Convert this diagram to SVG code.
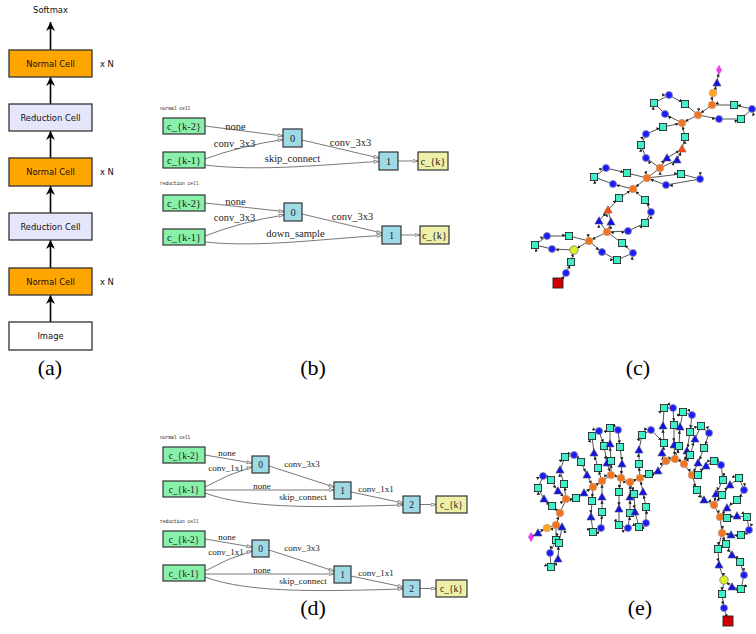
<svg xmlns="http://www.w3.org/2000/svg" width="756" height="634" viewBox="0 0 756 634">
<style>
.bx{stroke:#333;stroke-width:1.3}
.or{fill:#ffa500}.lv{fill:#e6e6fa}.wh{fill:#fff}
.at{font-family:"DejaVu Sans",sans-serif;font-size:8.4px;fill:#111;text-anchor:middle}
.xn{font-family:"DejaVu Sans",sans-serif;font-size:8.4px;fill:#111}
.pl{font-family:"Liberation Serif",serif;font-size:22px;fill:#000;text-anchor:middle}
.gn{fill:#88f0a8;stroke:#333;stroke-width:1.2}
.bn{fill:#9fd9e6;stroke:#333;stroke-width:1.2}
.yn{fill:#eef0a8;stroke:#333;stroke-width:1.2}
.nt{font-family:"Liberation Serif",serif;font-size:10.5px;fill:#222;text-anchor:middle}
.nt2{font-family:"Liberation Serif",serif;font-size:9.5px;fill:#222;text-anchor:middle}
.el{font-family:"Liberation Serif",serif;font-size:10.5px;fill:#222;text-anchor:middle}
.el2{font-family:"Liberation Serif",serif;font-size:9px;fill:#222;text-anchor:middle}
.tl{font-family:"Liberation Mono",monospace;font-size:4.6px;fill:#222}
.ed{fill:none;stroke:#6a6a6a;stroke-width:0.9;marker-end:url(#oa)}
.ar{stroke:#000;stroke-width:1.6;marker-end:url(#ah)}
.me{fill:none;stroke:#2a2a2a;stroke-width:0.8;marker-mid:url(#sa);marker-end:url(#sa)}
</style>
<defs>
<marker id="ah" viewBox="0 0 10 10" refX="10" refY="5" markerWidth="9" markerHeight="9" markerUnits="userSpaceOnUse" orient="auto"><path d="M0,0 L10,5 L0,10 L3,5z" fill="#000"/></marker>
<marker id="oa" viewBox="0 0 12 8" refX="11" refY="4" markerWidth="6" markerHeight="4" markerUnits="userSpaceOnUse" orient="auto"><path d="M1,1 L11,4 L1,7z" fill="#fff" stroke="#555" stroke-width="1.3"/></marker>
<marker id="sa" viewBox="0 0 10 10" refX="20" refY="5" markerWidth="3.4" markerHeight="3.4" markerUnits="userSpaceOnUse" orient="auto"><path d="M0,0 L10,5 L0,10z" fill="#222"/></marker>
<circle id="B" r="3.5" fill="#1a1aff" stroke="#8888aa" stroke-width="0.9"/>
<circle id="O" r="3.8" fill="#f27420" stroke="#c8a080" stroke-width="0.7"/>
<circle id="LO" r="3.8" fill="#ffa520" stroke="#c8a080" stroke-width="0.7"/>
<circle id="Y" r="4.2" fill="#e0f020" stroke="#777" stroke-width="0.8"/>
<rect id="T" x="-3.6" y="-3.6" width="7.2" height="7.2" fill="#40eec8" stroke="#1a1a1a" stroke-width="0.8"/>
<polygon id="V" points="0,-4.3 4.1,3 -4.1,3" fill="#1212e0" stroke="#555577" stroke-width="0.6"/>
<polygon id="RT" points="0,-4.3 4.1,3 -4.1,3" fill="#ff4a10" stroke="#885544" stroke-width="0.6"/>
<polygon id="MD" points="0,-4.8 2.6,0 0,4.8 -2.6,0" fill="#ff33ff" stroke="#aa66aa" stroke-width="0.5"/>
<rect id="R" x="-5" y="-5" width="10" height="10" fill="#d40000" stroke="#222" stroke-width="0.9"/>
</defs>
<rect width="756" height="634" fill="#fff"/>

<!-- Panel (a) -->
<g id="a-connectors">
<line class="ar" x1="50.5" y1="50" x2="50.5" y2="22"/>
<line class="ar" x1="50.5" y1="104" x2="50.5" y2="77"/>
<line class="ar" x1="50.5" y1="158" x2="50.5" y2="131"/>
<line class="ar" x1="50.5" y1="213" x2="50.5" y2="186"/>
<line class="ar" x1="50.5" y1="268" x2="50.5" y2="240"/>
<line class="ar" x1="50.5" y1="322" x2="50.5" y2="295"/>
</g>
<g id="a-softmax"><text class="at" x="50.5" y="13">Softmax</text></g>
<g id="a-normal3"><rect class="bx or" x="9" y="50" width="83" height="27"/><text class="at" x="50.5" y="66.5">Normal Cell</text><text class="xn" x="100" y="66.5">x N</text></g>
<g id="a-reduction2"><rect class="bx lv" x="9" y="104" width="83" height="27"/><text class="at" x="50.5" y="120.5">Reduction Cell</text></g>
<g id="a-normal2"><rect class="bx or" x="9" y="158" width="83" height="28"/><text class="at" x="50.5" y="175">Normal Cell</text><text class="xn" x="100" y="175">x N</text></g>
<g id="a-reduction1"><rect class="bx lv" x="9" y="213" width="83" height="27"/><text class="at" x="50.5" y="229.5">Reduction Cell</text></g>
<g id="a-normal1"><rect class="bx or" x="9" y="268" width="83" height="27"/><text class="at" x="50.5" y="284.5">Normal Cell</text><text class="xn" x="100" y="284.5">x N</text></g>
<g id="a-image"><rect class="bx wh" x="9" y="322" width="83" height="28"/><text class="at" x="50.5" y="339">Image</text></g>
<text class="pl" x="50" y="375">(a)</text>

<!-- Panel (b) -->
<text class="tl" x="160" y="110">normal cell</text>
<text class="tl" x="160" y="185">reduction cell</text>
<g id="b-connectors">
<path class="ed" d="M205,126 L283,136"/>
<path class="ed" d="M205,159 Q240,146 283,139.5"/>
<path class="ed" d="M205,165 C260,172 330,164 379,161.5"/>
<path class="ed" d="M302,140 L379,158"/>
<path class="ed" d="M398,161 L418,161"/>
<path class="ed" d="M205,203 L284,211.5"/>
<path class="ed" d="M205,236 Q240,222 284,215"/>
<path class="ed" d="M205,242 C260,248 330,238 382,235.5"/>
<path class="ed" d="M302,214 L382,233"/>
<path class="ed" d="M401,235 L420,235"/>
</g>
<g id="b-labels">
<text class="el" x="235.5" y="129.5">none</text>
<text class="el" x="234.5" y="146.5">conv_3x3</text>
<text class="el" x="292.5" y="161.5">skip_connect</text>
<text class="el" x="350.5" y="145.5">conv_3x3</text>
<text class="el" x="235.5" y="204.5">none</text>
<text class="el" x="234.5" y="220.5">conv_3x3</text>
<text class="el" x="295.5" y="236.5">down_sample</text>
<text class="el" x="352.5" y="219.5">conv_3x3</text>
</g>
<g id="b-n-ck2"><rect class="gn" x="163" y="118" width="42" height="16"/><text class="nt" x="184" y="130">c_{k-2}</text></g>
<g id="b-n-ck1"><rect class="gn" x="163" y="152" width="42" height="16"/><text class="nt" x="184" y="164">c_{k-1}</text></g>
<g id="b-n-0"><rect class="bn" x="283" y="129" width="19" height="18"/><text class="nt" x="292.5" y="142">0</text></g>
<g id="b-n-1"><rect class="bn" x="379" y="152" width="19" height="18"/><text class="nt" x="388.5" y="165">1</text></g>
<g id="b-n-ck"><rect class="yn" x="418" y="152" width="30" height="18"/><text class="nt" x="433" y="165">c_{k}</text></g>
<g id="b-r-ck2"><rect class="gn" x="163" y="195" width="42" height="16"/><text class="nt" x="184" y="207">c_{k-2}</text></g>
<g id="b-r-ck1"><rect class="gn" x="163" y="229" width="42" height="16"/><text class="nt" x="184" y="241">c_{k-1}</text></g>
<g id="b-r-0"><rect class="bn" x="284" y="203" width="18" height="18"/><text class="nt" x="293" y="216">0</text></g>
<g id="b-r-1"><rect class="bn" x="382" y="226" width="19" height="18"/><text class="nt" x="391.5" y="239">1</text></g>
<g id="b-r-ck"><rect class="yn" x="420" y="226" width="29" height="18"/><text class="nt" x="434.5" y="239">c_{k}</text></g>
<text class="pl" x="313" y="375">(b)</text>

<!-- Panel (d) -->
<text class="tl" x="160" y="439">normal cell</text>
<text class="tl" x="160" y="523">reduction cell</text>
<g id="d-connectors">
<path class="ed" d="M205,455 L252,463"/>
<path class="ed" d="M205,487 Q228,474 252,467"/>
<path class="ed" d="M205,490 L334,490"/>
<path class="ed" d="M205,493 C250,510 330,507 403,505"/>
<path class="ed" d="M269,466 L334,487"/>
<path class="ed" d="M351,492 L403,503"/>
<path class="ed" d="M420,504.5 L436,504.5"/>
<path class="ed" d="M205,539 L252,547"/>
<path class="ed" d="M205,571 Q228,558 252,551"/>
<path class="ed" d="M205,574 L334,574"/>
<path class="ed" d="M205,577 C250,594 330,591 403,589"/>
<path class="ed" d="M269,550 L334,571"/>
<path class="ed" d="M351,576 L403,587"/>
<path class="ed" d="M420,588.5 L436,588.5"/>
</g>
<g id="d-labels">
<text class="el2" x="227" y="456">none</text>
<text class="el2" x="226" y="471">conv_1x1</text>
<text class="el2" x="262" y="489">none</text>
<text class="el2" x="303" y="500">skip_connect</text>
<text class="el2" x="302" y="467">conv_3x3</text>
<text class="el2" x="376" y="492">conv_1x1</text>
<text class="el2" x="227" y="540">none</text>
<text class="el2" x="226" y="555">conv_1x1</text>
<text class="el2" x="262" y="573">none</text>
<text class="el2" x="303" y="584">skip_connect</text>
<text class="el2" x="302" y="551">conv_3x3</text>
<text class="el2" x="376" y="576">conv_1x1</text>
</g>
<g id="d-n-ck2"><rect class="gn" x="163" y="447" width="42" height="16"/><text class="nt2" x="184" y="458.5">c_{k-2}</text></g>
<g id="d-n-ck1"><rect class="gn" x="163" y="481" width="42" height="16"/><text class="nt2" x="184" y="492.5">c_{k-1}</text></g>
<g id="d-n-0"><rect class="bn" x="252" y="456" width="17" height="17"/><text class="nt2" x="260.5" y="468">0</text></g>
<g id="d-n-1"><rect class="bn" x="334" y="482" width="17" height="17"/><text class="nt2" x="342.5" y="494">1</text></g>
<g id="d-n-2"><rect class="bn" x="403" y="496" width="17" height="17"/><text class="nt2" x="411.5" y="508">2</text></g>
<g id="d-n-ck"><rect class="yn" x="436" y="496" width="31" height="17"/><text class="nt2" x="451.5" y="508">c_{k}</text></g>
<g id="d-r-ck2"><rect class="gn" x="163" y="531" width="42" height="16"/><text class="nt2" x="184" y="542.5">c_{k-2}</text></g>
<g id="d-r-ck1"><rect class="gn" x="163" y="565" width="42" height="16"/><text class="nt2" x="184" y="576.5">c_{k-1}</text></g>
<g id="d-r-0"><rect class="bn" x="252" y="540" width="17" height="17"/><text class="nt2" x="260.5" y="552">0</text></g>
<g id="d-r-1"><rect class="bn" x="334" y="566" width="17" height="17"/><text class="nt2" x="342.5" y="578">1</text></g>
<g id="d-r-2"><rect class="bn" x="403" y="580" width="17" height="17"/><text class="nt2" x="411.5" y="592">2</text></g>
<g id="d-r-ck"><rect class="yn" x="436" y="580" width="31" height="17"/><text class="nt2" x="451.5" y="592">c_{k}</text></g>
<text class="pl" x="313" y="615">(d)</text>

<!-- Panel (c) -->
<g id="c-connectors">
<polyline class="me" points="574,250 552,249 535,245 547,236 569,236 589,241 574,250"/>
<polyline class="me" points="558,283 566,273 571,262 574,250"/>
<polyline class="me" points="589,241 602,252 617,260 633,253 622,243 607,232 589,241"/>
<polyline class="me" points="607,232 599,221 608,210"/>
<polyline class="me" points="607,232 611,222 608,210 619,198 633,189"/>
<polyline class="me" points="607,232 628,231 645,223 651,212 645,200 633,189"/>
<polyline class="me" points="633,189 613,184 594,177 606,168 627,173 647,178 633,189"/>
<polyline class="me" points="647,178 681,174 700,179 666,185 647,178"/>
<polyline class="me" points="647,178 660,168 646,158 641,145 646,134 663,127 682,123"/>
<polyline class="me" points="660,168 667,158 682,149"/>
<polyline class="me" points="660,168 677,160 682,149 685,137 682,123"/>
<polyline class="me" points="682,123 665,114 654,103 669,95 685,104 698,115 682,123"/>
<polyline class="me" points="698,115 719,119 741,119 752,109 734,105 712,105 698,115"/>
<polyline class="me" points="712,105 713,93 717,83 719,70"/>
</g>
<g id="c-nodes">
<use href="#Y" x="574" y="250"/><use href="#B" x="552" y="249"/><use href="#T" x="535" y="245"/><use href="#B" x="547" y="236"/><use href="#T" x="569" y="236"/><use href="#O" x="589" y="241"/>
<use href="#T" x="571" y="262"/><use href="#B" x="566" y="273"/><use href="#R" x="558" y="283"/>
<use href="#B" x="602" y="252"/><use href="#T" x="617" y="260"/><use href="#B" x="633" y="253"/><use href="#T" x="622" y="243"/><use href="#O" x="607" y="232"/>
<use href="#V" x="599" y="221"/><use href="#V" x="611" y="222"/><use href="#RT" x="608" y="210"/><use href="#T" x="619" y="198"/><use href="#O" x="633" y="189"/>
<use href="#B" x="628" y="231"/><use href="#T" x="645" y="223"/><use href="#B" x="651" y="212"/><use href="#T" x="645" y="200"/>
<use href="#B" x="613" y="184"/><use href="#T" x="594" y="177"/><use href="#B" x="606" y="168"/><use href="#T" x="627" y="173"/><use href="#O" x="647" y="178"/>
<use href="#T" x="681" y="174"/><use href="#B" x="700" y="179"/><use href="#B" x="666" y="185"/>
<use href="#O" x="660" y="168"/><use href="#B" x="646" y="158"/><use href="#T" x="641" y="145"/><use href="#B" x="646" y="134"/><use href="#T" x="663" y="127"/><use href="#O" x="682" y="123"/>
<use href="#V" x="667" y="158"/><use href="#V" x="677" y="160"/><use href="#RT" x="682" y="149"/><use href="#T" x="685" y="137"/>
<use href="#B" x="665" y="114"/><use href="#T" x="654" y="103"/><use href="#B" x="669" y="95"/><use href="#T" x="685" y="104"/><use href="#O" x="698" y="115"/>
<use href="#B" x="719" y="119"/><use href="#T" x="741" y="119"/><use href="#B" x="752" y="109"/><use href="#T" x="734" y="105"/><use href="#O" x="712" y="105"/>
<use href="#LO" x="713" y="93"/><use href="#V" x="717" y="83"/><use href="#MD" x="719" y="70"/>
</g>
<text class="pl" x="638" y="375">(c)</text>

<!-- Panel (e) -->
<g id="e-connectors">
<polyline class="me" points="531,537 538,533 547,528 556,525 560,513 566,499 576,498 584,493 593,487 602,481 611,475 621,478 630,482 640,478 649,474 658,471 666,461 675,459 684,464 692,475 697,490 704,500 714,505 720,517 722,533 718,549 719,565 724,580 722,594 724,608 728,621"/>
<polyline class="me" points="556,525 556,540 550,553 551,567 558,559 559,543 562,527 556,525"/>
<polyline class="me" points="560,513 552,506 544,499 538,488 543,476 551,480 558,491 566,499"/>
<polyline class="me" points="566,499 564,484 560,470 565,457 574,455 581,462 587,475 593,487"/>
<polyline class="me" points="593,487 592,501 591,517 593,532 601,528 602,512 602,497 602,481"/>
<polyline class="me" points="602,481 598,468 594,453 592,436 599,431 604,446 607,463 611,475"/>
<polyline class="me" points="611,475 611,461 610,444 610,428 618,430 620,447 622,464 621,478"/>
<polyline class="me" points="621,478 619,492 619,509 619,525 628,528 630,513 630,497 630,482"/>
<polyline class="me" points="630,482 634,494 635,512 639,527 646,523 646,507 643,492 640,478"/>
<polyline class="me" points="640,478 639,464 639,450 642,435 651,430 664,443"/>
<polyline class="me" points="666,461 662,453 664,443 663,426 664,408 673,408 674,425 674,445 675,459"/>
<polyline class="me" points="675,459 679,446 680,427 683,412 692,415 690,432 687,451 684,464"/>
<polyline class="me" points="684,464 690,455 695,439 701,426 709,433 704,448 698,463 692,475"/>
<polyline class="me" points="692,475 698,475 706,466 714,461 721,465 723,480 716,494 714,505"/>
<polyline class="me" points="714,505 722,495 730,485 739,478 744,490 737,500 727,508 720,517"/>
<polyline class="me" points="720,517 727,518 737,516 747,517 749,530 741,535 731,535 722,533"/>
<polyline class="me" points="722,533 726,544 732,555 740,562 744,575 741,589 732,587 724,580"/>
</g>
<g id="e-nodes">
<use href="#MD" x="531" y="537"/><use href="#V" x="538" y="533"/><use href="#LO" x="547" y="528"/><use href="#O" x="556" y="525"/><use href="#O" x="560" y="513"/><use href="#O" x="566" y="499"/><use href="#T" x="576" y="498"/><use href="#V" x="584" y="493"/>
<use href="#O" x="593" y="487"/><use href="#O" x="602" y="481"/><use href="#O" x="611" y="475"/><use href="#O" x="621" y="478"/><use href="#O" x="630" y="482"/><use href="#O" x="640" y="478"/><use href="#T" x="649" y="474"/><use href="#V" x="658" y="471"/>
<use href="#O" x="666" y="461"/><use href="#O" x="675" y="459"/><use href="#O" x="684" y="464"/><use href="#O" x="692" y="475"/><use href="#T" x="697" y="490"/><use href="#V" x="704" y="500"/><use href="#O" x="714" y="505"/><use href="#O" x="720" y="517"/><use href="#O" x="722" y="533"/>
<use href="#T" x="718" y="549"/><use href="#V" x="719" y="565"/><use href="#Y" x="724" y="580"/><use href="#T" x="722" y="594"/><use href="#B" x="724" y="608"/><use href="#R" x="728" y="621"/>
<use href="#T" x="556" y="540"/><use href="#B" x="550" y="553"/><use href="#T" x="551" y="567"/><use href="#V" x="558" y="559"/><use href="#T" x="559" y="543"/><use href="#V" x="562" y="527"/>
<use href="#T" x="552" y="506"/><use href="#V" x="544" y="499"/><use href="#T" x="538" y="488"/><use href="#B" x="543" y="476"/><use href="#T" x="551" y="480"/><use href="#V" x="558" y="491"/>
<use href="#T" x="564" y="484"/><use href="#V" x="560" y="470"/><use href="#T" x="565" y="457"/><use href="#B" x="574" y="455"/><use href="#T" x="581" y="462"/><use href="#V" x="587" y="475"/>
<use href="#T" x="592" y="501"/><use href="#V" x="591" y="517"/><use href="#T" x="593" y="532"/><use href="#B" x="601" y="528"/><use href="#T" x="602" y="512"/><use href="#V" x="602" y="497"/>
<use href="#T" x="598" y="468"/><use href="#V" x="594" y="453"/><use href="#T" x="592" y="436"/><use href="#B" x="599" y="431"/><use href="#T" x="604" y="446"/><use href="#V" x="607" y="463"/>
<use href="#T" x="611" y="461"/><use href="#V" x="610" y="444"/><use href="#T" x="610" y="428"/><use href="#B" x="618" y="430"/><use href="#T" x="620" y="447"/><use href="#V" x="622" y="464"/>
<use href="#T" x="619" y="492"/><use href="#V" x="619" y="509"/><use href="#T" x="619" y="525"/><use href="#B" x="628" y="528"/><use href="#T" x="630" y="513"/><use href="#V" x="630" y="497"/>
<use href="#T" x="634" y="494"/><use href="#V" x="635" y="512"/><use href="#T" x="639" y="527"/><use href="#B" x="646" y="523"/><use href="#T" x="646" y="507"/><use href="#V" x="643" y="492"/>
<use href="#T" x="639" y="464"/><use href="#V" x="639" y="450"/><use href="#T" x="642" y="435"/><use href="#B" x="651" y="430"/>
<use href="#V" x="662" y="453"/><use href="#T" x="664" y="443"/><use href="#V" x="663" y="426"/><use href="#T" x="664" y="408"/><use href="#B" x="673" y="408"/><use href="#T" x="674" y="425"/><use href="#V" x="674" y="445"/>
<use href="#T" x="679" y="446"/><use href="#V" x="680" y="427"/><use href="#T" x="683" y="412"/><use href="#B" x="692" y="415"/><use href="#T" x="690" y="432"/><use href="#V" x="687" y="451"/>
<use href="#T" x="690" y="455"/><use href="#V" x="695" y="439"/><use href="#T" x="701" y="426"/><use href="#B" x="709" y="433"/><use href="#T" x="704" y="448"/><use href="#V" x="698" y="463"/>
<use href="#T" x="698" y="475"/><use href="#V" x="706" y="466"/><use href="#T" x="714" y="461"/><use href="#B" x="721" y="465"/><use href="#T" x="723" y="480"/><use href="#V" x="716" y="494"/>
<use href="#T" x="722" y="495"/><use href="#V" x="730" y="485"/><use href="#T" x="739" y="478"/><use href="#B" x="744" y="490"/><use href="#T" x="737" y="500"/><use href="#V" x="727" y="508"/>
<use href="#T" x="727" y="518"/><use href="#V" x="737" y="516"/><use href="#T" x="747" y="517"/><use href="#B" x="749" y="530"/><use href="#T" x="741" y="535"/><use href="#V" x="731" y="535"/>
<use href="#T" x="726" y="544"/><use href="#V" x="732" y="555"/><use href="#T" x="740" y="562"/><use href="#B" x="744" y="575"/><use href="#T" x="741" y="589"/><use href="#V" x="732" y="587"/>
</g>
<text class="pl" x="640" y="615">(e)</text>
</svg>
